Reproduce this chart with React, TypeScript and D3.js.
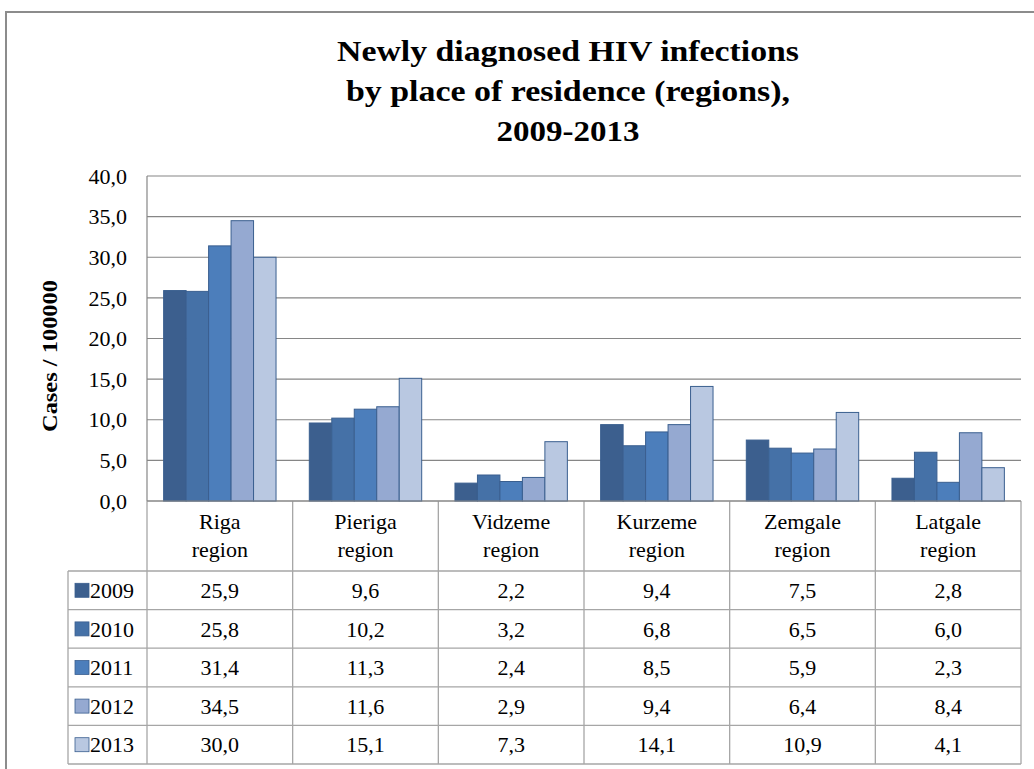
import React from "react";
import * as d3 from "d3";

const regions = ["Riga region", "Pieriga region", "Vidzeme region", "Kurzeme region", "Zemgale region", "Latgale region"];
const years = ["2009", "2010", "2011", "2012", "2013"];
const v2009 = [25.9, 9.6, 2.2, 9.4, 7.5, 2.8];
const v2010 = [25.8, 10.2, 3.2, 6.8, 6.5, 6.0];
const v2011 = [31.4, 11.3, 2.4, 8.5, 5.9, 2.3];
const v2012 = [34.5, 11.6, 2.9, 9.4, 6.4, 8.4];
const v2013 = [30.0, 15.1, 7.3, 14.1, 10.9, 4.1];
const seriesValues = [v2009, v2010, v2011, v2012, v2013];
const yTicks = [0, 5, 10, 15, 20, 25, 30, 35, 40];
const colors = ["#3c5f8e", "#4571a7", "#4c7ebb", "#95a9d1", "#b9c8e1"];
const titleLines = ["Newly diagnosed HIV infections", "by place of residence (regions),", "2009-2013"];
const titleWidths = [462, 444, 143];

const FONT = '"Liberation Serif", "DejaVu Serif", "Times New Roman", serif';
const fmt = (v: number) => d3.format(".1f")(v).replace(".", ",");
const ts = { fontFamily: FONT };

export default function App() {
  const W = 1034, H = 769;
  const plotL = 147, plotR = 1021, plotT = 176, plotB = 501;
  const headerBottom = 571;
  const rowH = 38.6;
  const legendL = 68;

  const x = d3.scaleBand<string>().domain(regions).range([plotL, plotR]).paddingInner(0).paddingOuter(0);
  const xi = d3.scaleBand<string>().domain(years).range([0, x.bandwidth()]).paddingInner(0).paddingOuter(0.74);
  const y = d3.scaleLinear().domain([0, 40]).range([plotB, plotT]);
  const rowY = (i: number) => headerBottom + i * rowH;
  const tableBottom = rowY(years.length);
  const gridColor = "#868686";
  const tableColor = "#a6a6a6";

  return (
    <svg width={W} height={H} style={{ position: "absolute", left: 0, top: 0, background: "#fff", fontFamily: FONT }}>
      <rect x={0} y={0} width={W} height={H} fill="#fff" />
      {/* outer border */}
      <rect x={6} y={12} width={W + 20} height={H + 20} fill="none" stroke="#8c8c8c" strokeWidth={2} />

      {/* title */}
      {titleLines.map((t, i) => (
        <text
          key={t}
          style={ts}
          x={568 - titleWidths[i] / 2}
          y={61 + i * 40}
          fontSize={29}
          fontWeight="bold"
          fill="#000"
          textLength={titleWidths[i]}
          lengthAdjust="spacingAndGlyphs"
        >
          {t}
        </text>
      ))}

      {/* gridlines */}
      {yTicks.map((t) => (
        <line key={t} x1={plotL} x2={plotR} y1={y(t)} y2={y(t)} stroke={gridColor} strokeWidth={1.2} />
      ))}
      <line x1={plotL} x2={plotL} y1={plotT} y2={plotB} stroke={gridColor} strokeWidth={1.2} />

      {/* y tick labels */}
      {yTicks.map((t) => (
        <text key={"l" + t} style={ts} x={127} y={y(t)} dy="0.35em" textAnchor="end" fontSize={22} fill="#000">
          {fmt(t)}
        </text>
      ))}

      {/* y axis title */}
      <text
        style={ts}
        transform={`translate(50,356) rotate(-90)`}
        x={-76}
        dy="0.35em"
        fontSize={21}
        fontWeight="bold"
        fill="#000"
        textLength={152}
        lengthAdjust="spacingAndGlyphs"
      >
        Cases / 100000
      </text>

      {/* bars */}
      {regions.map((r, ri) => (
        <g key={r} transform={`translate(${x(r)},0)`}>
          {years.map((yr, si) => {
            const v = seriesValues[si][ri];
            return (
              <rect
                key={yr}
                x={xi(yr)}
                y={y(v)}
                width={xi.bandwidth()}
                height={y(0) - y(v)}
                fill={colors[si]}
                stroke="#3a5f8f"
                strokeWidth={1}
              />
            );
          })}
        </g>
      ))}

      {/* table grid */}
      <g stroke={tableColor} strokeWidth={1.3} fill="none">
        {regions.map((r) => (
          <line key={"v" + r} x1={x(r)} x2={x(r)} y1={plotB} y2={tableBottom} />
        ))}
        <line x1={plotR} x2={plotR} y1={plotB} y2={tableBottom} />
        <line x1={legendL} x2={legendL} y1={headerBottom} y2={tableBottom} />
        {years.map((yr, i) => (
          <line key={"h" + yr} x1={legendL} x2={plotR} y1={rowY(i)} y2={rowY(i)} />
        ))}
        <line x1={legendL} x2={plotR} y1={tableBottom} y2={tableBottom} />
      </g>
      <line x1={plotL} x2={plotR} y1={plotB} y2={plotB} stroke={gridColor} strokeWidth={1.2} />

      {regions.map((r) => {
        const parts = r.split(" ");
        const cx = (x(r) as number) + x.bandwidth() / 2;
        return (
          <text key={"c" + r} style={ts} x={cx} textAnchor="middle" fontSize={22} fill="#000">
            <tspan x={cx} y={529}>{parts[0]}</tspan>
            <tspan x={cx} y={557}>{parts[1]}</tspan>
          </text>
        );
      })}

      {/* legend column + values */}
      {years.map((yr, si) => {
        const cy = rowY(si) + rowH / 2;
        return (
          <g key={"row" + yr}>
            <rect x={75} y={cy - 7} width={14} height={14} fill={colors[si]} stroke="#3a5f8f" strokeWidth={0.8} />
            <text style={ts} x={90} y={cy} dy="0.35em" fontSize={22} fill="#000">{yr}</text>
            {regions.map((r, ri) => (
              <text
                key={r}
                style={ts}
                x={(x(r) as number) + x.bandwidth() / 2}
                y={cy}
                dy="0.35em"
                textAnchor="middle"
                fontSize={22}
                fill="#000"
              >
                {fmt(seriesValues[si][ri])}
              </text>
            ))}
          </g>
        );
      })}
    </svg>
  );
}
